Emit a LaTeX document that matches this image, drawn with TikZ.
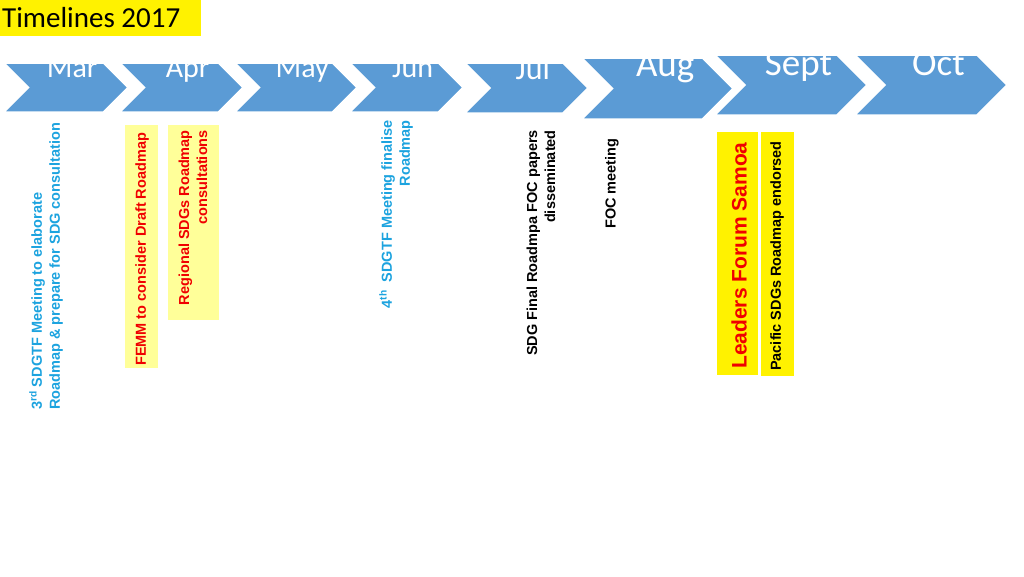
\documentclass[tikz,border=0pt]{standalone}
\usepackage{fontspec}
\setmainfont{Liberation Sans}
\newfontfamily\carlfont{Carlito}
\definecolor{chev}{HTML}{5B9BD5}
\definecolor{tblue}{HTML}{1CA3DF}
\definecolor{lyel}{HTML}{FFFF99}
\definecolor{tred}{HTML}{F00000}
\begin{document}
\begin{tikzpicture}[x=1pt,y=-1pt,
  mon/.style={text=white,font=\carlfont\fontsize{#1}{#1}\selectfont,inner sep=0,anchor=base},
  ev/.style={rotate=90,inner sep=0,font=\bfseries\fontsize{14.5}{18}\selectfont},
  evl/.style={ev,anchor=west,align=left},
  evr/.style={ev,anchor=east,align=right}]
\useasboundingbox (0,0) rectangle (1024,576);
\fill[white] (0,0) rectangle (1024,576);
% title
\fill[yellow] (0,0) rectangle (201,36);
\node[anchor=west,inner sep=0,font=\carlfont\fontsize{29}{29}\selectfont] (title) at (2,18) {Timelines 2017};
% chevrons: left, tip, top, bottom
\foreach \l/\t/\a/\b/\n in {4/128/63/112/1,120/243/63/112/2,235/357/63/112/3,350/463/63/112/4,465/588/63/113/5,582/733/58/119/6,715/867/55/115/7,855/1007/55/115/8}{
  \pgfmathsetmacro\h{(\b-\a)/2}
  \fill[chev,draw=white,line width=1.5pt] (\l,\a) -- (\t-\h,\a) -- (\t,\a+\h) -- (\t-\h,\b) -- (\l,\b) -- (\l+\h,\a+\h) -- cycle;
  \coordinate (c\n) at ({(\l+\t)/2+\h/4},{\a+\h});
}
\node[mon=30] (mar) at ([yshift=10]c1) {Mar};
\node[mon=30] (apr) at ([yshift=10]c2) {Apr};
\node[mon=30] (may) at ([yshift=10]c3) {May};
\node[mon=30] (jun) at ([yshift=10]c4) {Jun};
\node[mon=32] (jul) at ([yshift=9]c5) {Jul};
\node[mon=37] (aug) at ([yshift=12]c6) {Aug};
\node[mon=37] (sep) at ([yshift=10]c7) {Sept};
\node[mon=37] (oct) at ([yshift=10]c8) {Oct};
% boxes
\fill[lyel] (125,125) rectangle (158,368);
\fill[lyel] (168,125) rectangle (219,320);
\fill[yellow] (717,132) rectangle (758,375);
\fill[yellow] (761,132) rectangle (794,376);
% events
\node[evl,text=tblue] (e1) at (46,410) {3\textsuperscript{rd} SDGTF Meeting to elaborate\\Roadmap \& prepare for SDG consultation};
\node[evl,text=tred] (e2) at (142,366) {FEMM to consider Draft Roadmap};
\node[evr,text=tred] (e3) at (193,130) {Regional SDGs Roadmap\\consultations};
\node[evr,text=tblue] (e4) at (396,120) {4\textsuperscript{th}\ \ SDGTF Meeting finalise\\Roadmap};
\node[evr] (e5) at (541,130) {SDG Final Roadmpa FOC papers\\disseminated};
\node[evl] (e6) at (612,229) {FOC meeting};
\node[evl,text=tred,font=\bfseries\fontsize{21}{21}\selectfont] (e7) at (739,369) {Leaders Forum Samoa};
\node[evl] (e8) at (777,371) {Pacific SDGs Roadmap endorsed};
\end{tikzpicture}
\end{document}
